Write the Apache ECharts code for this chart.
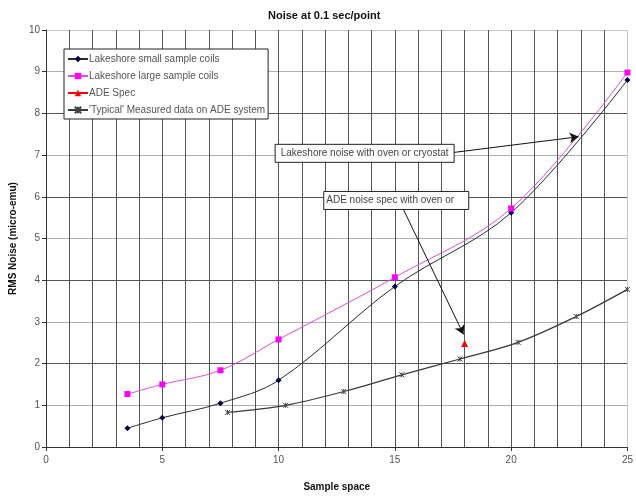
<!DOCTYPE html>
<html><head><meta charset="utf-8">
<script src="https://cdn.jsdelivr.net/npm/echarts@6/dist/echarts.min.js"></script>
<style>html,body{margin:0;padding:0;background:#fff}#c{width:636px;height:497px}</style>
</head><body><div id="c"></div>
<script>
// ---- data ----
const seriesNames = ["Lakeshore small sample coils", "Lakeshore large sample coils", "ADE Spec", "'Typical' Measured data on ADE system"];
const smallX = [3.5, 5, 7.5, 10, 15, 20, 25];
const smallY = [0.45, 0.70, 1.05, 1.60, 3.85, 5.62, 8.80];
const largeX = [3.5, 5, 7.5, 10, 15, 20, 25];
const largeY = [1.27, 1.50, 1.84, 2.58, 4.07, 5.72, 8.98];
const adeX = [18];
const adeY = [2.48];
const typX = [7.8, 10.3, 12.8, 15.3, 17.8, 20.3, 22.8, 25];
const typY = [0.83, 1.00, 1.33, 1.73, 2.11, 2.51, 3.13, 3.78];
const xTickLabels = [0, 5, 10, 15, 20, 25];
const yTickLabels = [0, 1, 2, 3, 4, 5, 6, 7, 8, 9, 10];
// annotations (data coordinates)
const ann1Text = "Lakeshore noise with oven or cryostat";
const ann1Anchor = [9.83, 7.27];
const ann1Arrow = [[17.48, 7.06], [22.9, 7.44]];
const ann2Text = "ADE noise spec with oven or";
const ann2Anchor = [11.92, 6.14];
const ann2Arrow = [[15.34, 5.73], [17.95, 2.70]];

const pairs = (xs, ys) => xs.map((x, i) => [x, ys[i]]);
const FONT = "Liberation Sans, Arial, sans-serif";
const chart = echarts.init(document.getElementById('c'));

const ySplitColors = yTickLabels.map(v => v === 10 ? '#c8c8c8' : (v % 2 === 0 ? '#555' : '#b0b0b0'));
const xSplitColors = xTickLabels.map(v => v === 25 ? '#c8c8c8' : '#555');

chart.setOption({
  animation: false,
  backgroundColor: '#fff',
  title: {
    text: 'Noise at 0.1 sec/point', left: 263, top: 5,
    textStyle: { fontFamily: FONT, fontSize: 11, fontWeight: 'bold', color: '#111' }
  },
  grid: { left: 46, right: 3, top: 30, bottom: 45, containLabel: false },
  legend: {
    orient: 'vertical', left: 64, top: 49,
    backgroundColor: '#fff', borderColor: '#222', borderWidth: 1,
    padding: [5, 3, 4, 3], itemGap: 7, itemWidth: 20, itemHeight: 8,
    textStyle: { fontFamily: FONT, fontSize: 10, color: '#555', padding: [0, 0, 0, -4] },
    data: seriesNames
  },
  xAxis: {
    type: 'value', min: 0, max: 25, interval: 5,
    name: 'Sample space', nameLocation: 'middle', nameGap: 35,
    nameTextStyle: { fontFamily: FONT, fontSize: 10, fontWeight: 'bold', color: '#111' },
    axisLine: { show: true, lineStyle: { color: '#333', width: 1 } },
    axisTick: { show: true, length: 4, inside: false, lineStyle: { color: '#333' } },
    axisLabel: { fontFamily: FONT, fontSize: 10, color: '#555', margin: 8,
      formatter: v => xTickLabels.includes(v) ? String(v) : '' },
    splitLine: { show: true, lineStyle: { color: xSplitColors, width: 1 } },
    minorTick: { show: false, splitNumber: 5 },
    minorSplitLine: { show: true, lineStyle: { color: '#555', width: 1 } }
  },
  yAxis: {
    type: 'value', min: 0, max: 10, interval: 1,
    name: 'RMS Noise (micro-emu)', nameLocation: 'middle', nameGap: 22,
    nameTextStyle: { fontFamily: FONT, fontSize: 10, fontWeight: 'bold', color: '#111' },
    axisLine: { show: true, lineStyle: { color: '#333', width: 1 } },
    axisTick: { show: true, length: 4, lineStyle: { color: '#333' } },
    axisLabel: { fontFamily: FONT, fontSize: 10, color: '#555', margin: 6,
      formatter: v => yTickLabels.includes(v) ? String(v) : '' },
    splitLine: { show: true, lineStyle: { color: ySplitColors, width: 1 } }
  },
  series: [
    {
      name: seriesNames[0], type: 'line', data: pairs(smallX, smallY), smooth: 0.35,
      symbol: 'diamond', symbolSize: 6,
      lineStyle: { color: '#2a2a3a', width: 1 },
      itemStyle: { color: '#000040' }, z: 3
    },
    {
      name: seriesNames[1], type: 'line', data: pairs(largeX, largeY), smooth: 0.35,
      symbol: 'rect', symbolSize: 6,
      lineStyle: { color: '#e050e0', width: 1 },
      itemStyle: { color: '#ff00ff' }, z: 4
    },
    {
      name: seriesNames[2], type: 'line', data: pairs(adeX, adeY),
      symbol: 'triangle', symbolSize: 7,
      lineStyle: { color: '#ff0000', width: 1 },
      itemStyle: { color: '#ff0000' }, z: 5,
      markLine: {
        silent: true, animation: false,
        symbol: ['none', 'arrow'], symbolSize: [8, 9],
        label: { show: false },
        lineStyle: { color: '#111', width: 1, type: 'solid' },
        emphasis: { disabled: true },
        data: [
          [{ coord: ann1Arrow[0] }, { coord: ann1Arrow[1] }],
          [{ coord: ann2Arrow[0] }, { coord: ann2Arrow[1] }]
        ]
      }
    },
    {
      name: seriesNames[3], type: 'line', data: pairs(typX, typY), smooth: 0.35,
      symbol: 'path://M0,0L10,10M10,0L0,10M5,0L5,10', symbolSize: 5,
      lineStyle: { color: '#3a3a3a', width: 1.2 },
      itemStyle: { color: '#555', borderColor: '#444', borderWidth: 1 }, z: 2
    }
  ]
});

function box(anchor, text, w, padL) {
  const p = chart.convertToPixel({ gridIndex: 0 }, anchor);
  return [
    { type: 'rect', left: p[0], top: p[1], z: 50,
      shape: { width: w, height: 18 },
      style: { fill: '#fff', stroke: '#222', lineWidth: 1 } },
    { type: 'text', left: p[0] + padL, top: p[1] + 4, z: 51,
      style: { text: text, fill: '#444', font: '10px ' + FONT } }
  ];
}
chart.setOption({
  graphic: [].concat(box(ann1Anchor, ann1Text, 179, 6), box(ann2Anchor, ann2Text, 145, 3))
});
</script>
</body></html>
